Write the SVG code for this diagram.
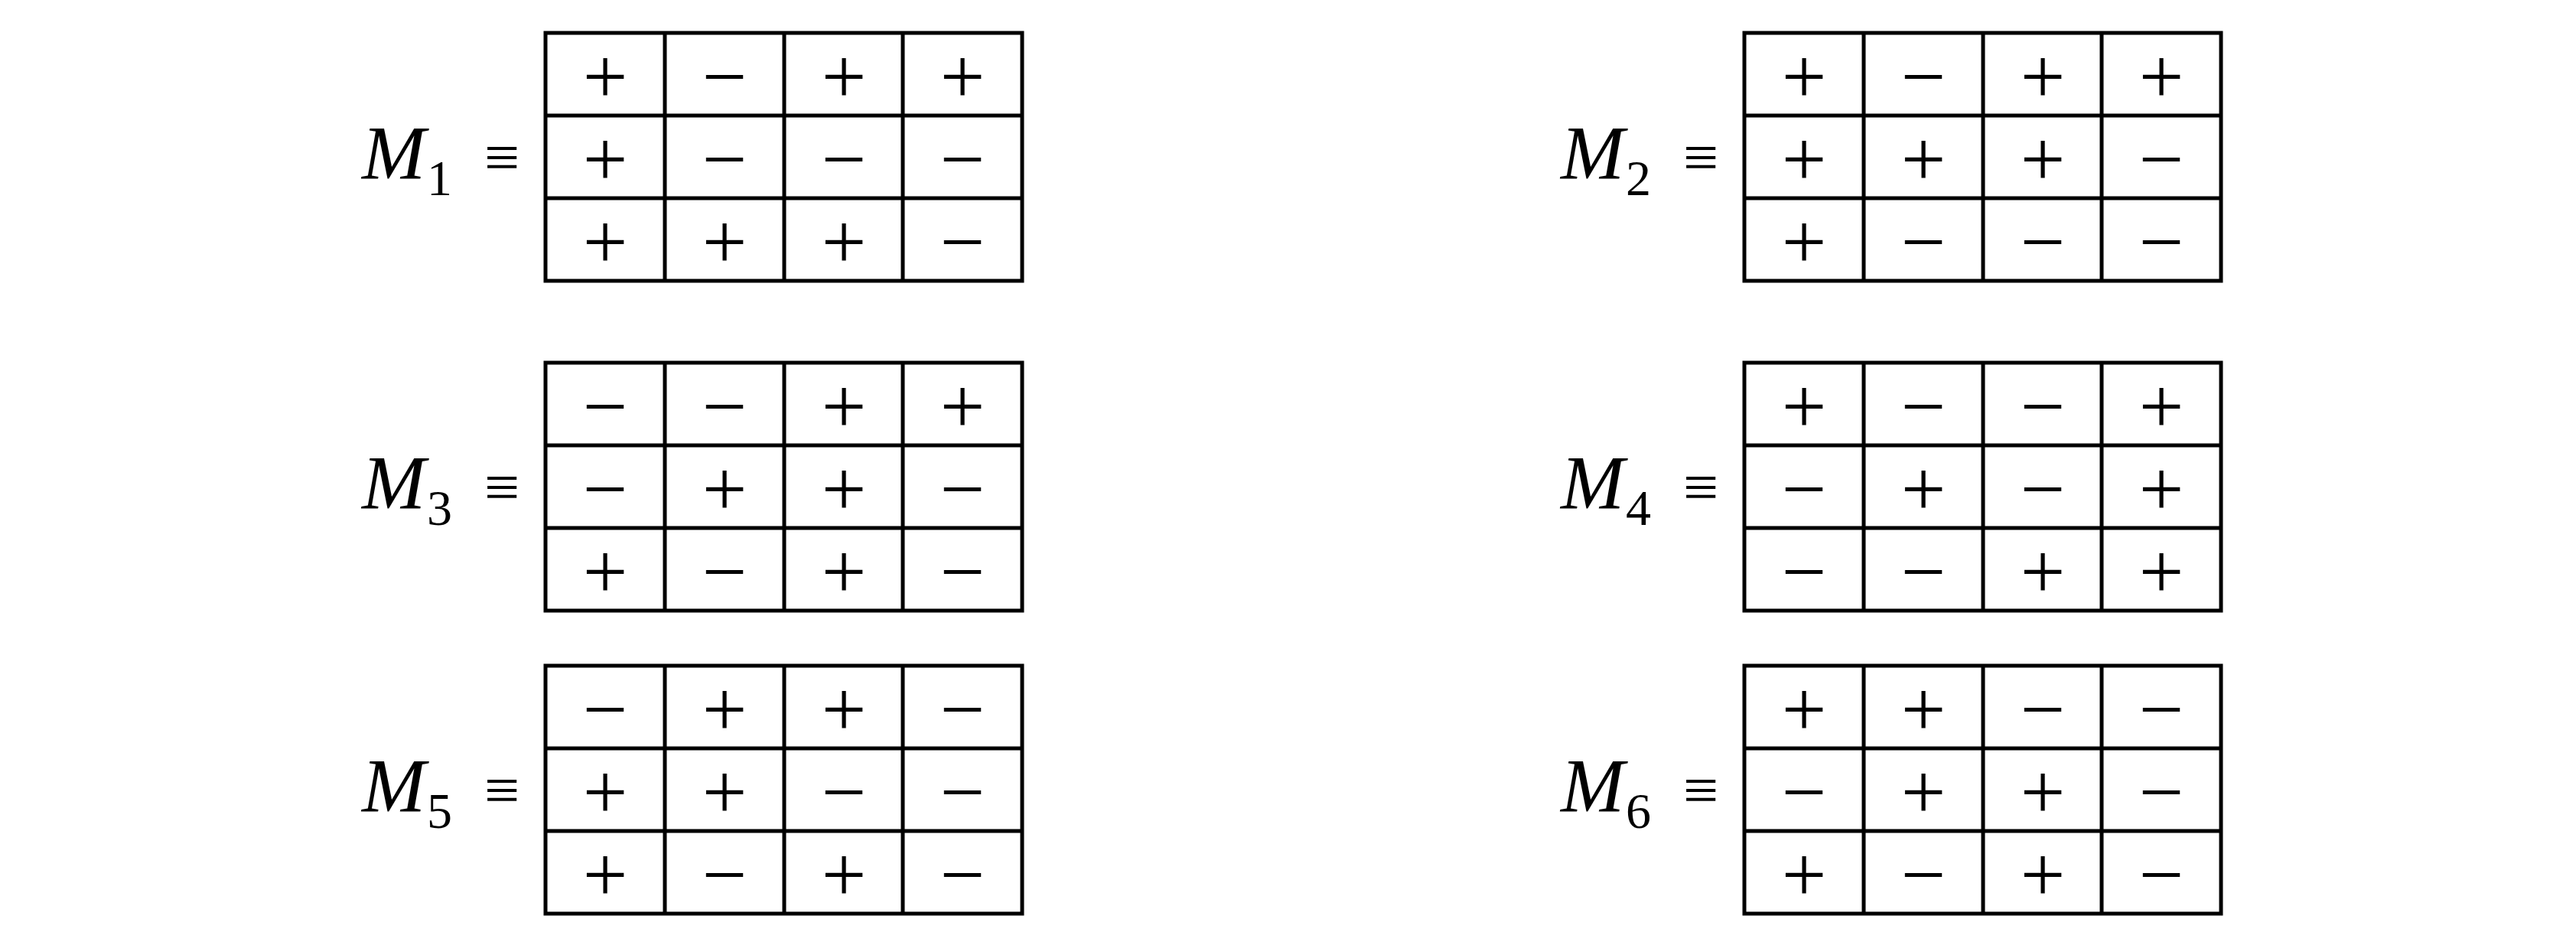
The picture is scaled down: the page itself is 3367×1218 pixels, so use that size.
<svg xmlns="http://www.w3.org/2000/svg" width="3367" height="1218" viewBox="0 0 3367 1218">
<style>
.g{fill:none;stroke:#000;stroke-width:5}
.s{font-family:"Liberation Serif","DejaVu Serif",serif;font-size:104px;text-anchor:middle}
.m{font-family:"Liberation Serif",serif;font-style:italic;font-size:100px}
.sub{font-family:"Liberation Serif",serif;font-size:66px}
.eq{font-family:"DejaVu Sans","Liberation Serif",serif;font-size:82px;font-weight:300;text-anchor:middle}
</style>
<defs>
<g id="grid">
<rect class="g" x="0" y="0" width="623" height="324"/>
<path class="g" d="M156 0V324M312 0V324M467 0V324M0 108H623M0 216H623"/>
</g>
</defs>
<g id="M1" transform="translate(713,43)">
<use href="#grid"/>
<text class="m" x="-240" y="190">M</text><text class="sub" x="-155" y="212">1</text><text class="eq" x="-57" y="190">≡</text>
<g class="s"><text x="78" y="92">+</text><text x="234" y="92">−</text><text x="390" y="92">+</text><text x="545" y="92">+</text>
<text x="78" y="200">+</text><text x="234" y="200">−</text><text x="390" y="200">−</text><text x="545" y="200">−</text>
<text x="78" y="308">+</text><text x="234" y="308">+</text><text x="390" y="308">+</text><text x="545" y="308">−</text></g>
</g>
<g id="M2" transform="translate(2280,43)">
<use href="#grid"/>
<text class="m" x="-240" y="190">M</text><text class="sub" x="-155" y="212">2</text><text class="eq" x="-57" y="190">≡</text>
<g class="s"><text x="78" y="92">+</text><text x="234" y="92">−</text><text x="390" y="92">+</text><text x="545" y="92">+</text>
<text x="78" y="200">+</text><text x="234" y="200">+</text><text x="390" y="200">+</text><text x="545" y="200">−</text>
<text x="78" y="308">+</text><text x="234" y="308">−</text><text x="390" y="308">−</text><text x="545" y="308">−</text></g>
</g>
<g id="M3" transform="translate(713,474)">
<use href="#grid"/>
<text class="m" x="-240" y="190">M</text><text class="sub" x="-155" y="212">3</text><text class="eq" x="-57" y="190">≡</text>
<g class="s"><text x="78" y="92">−</text><text x="234" y="92">−</text><text x="390" y="92">+</text><text x="545" y="92">+</text>
<text x="78" y="200">−</text><text x="234" y="200">+</text><text x="390" y="200">+</text><text x="545" y="200">−</text>
<text x="78" y="308">+</text><text x="234" y="308">−</text><text x="390" y="308">+</text><text x="545" y="308">−</text></g>
</g>
<g id="M4" transform="translate(2280,474)">
<use href="#grid"/>
<text class="m" x="-240" y="190">M</text><text class="sub" x="-155" y="212">4</text><text class="eq" x="-57" y="190">≡</text>
<g class="s"><text x="78" y="92">+</text><text x="234" y="92">−</text><text x="390" y="92">−</text><text x="545" y="92">+</text>
<text x="78" y="200">−</text><text x="234" y="200">+</text><text x="390" y="200">−</text><text x="545" y="200">+</text>
<text x="78" y="308">−</text><text x="234" y="308">−</text><text x="390" y="308">+</text><text x="545" y="308">+</text></g>
</g>
<g id="M5" transform="translate(713,870)">
<use href="#grid"/>
<text class="m" x="-240" y="190">M</text><text class="sub" x="-155" y="212">5</text><text class="eq" x="-57" y="190">≡</text>
<g class="s"><text x="78" y="92">−</text><text x="234" y="92">+</text><text x="390" y="92">+</text><text x="545" y="92">−</text>
<text x="78" y="200">+</text><text x="234" y="200">+</text><text x="390" y="200">−</text><text x="545" y="200">−</text>
<text x="78" y="308">+</text><text x="234" y="308">−</text><text x="390" y="308">+</text><text x="545" y="308">−</text></g>
</g>
<g id="M6" transform="translate(2280,870)">
<use href="#grid"/>
<text class="m" x="-240" y="190">M</text><text class="sub" x="-155" y="212">6</text><text class="eq" x="-57" y="190">≡</text>
<g class="s"><text x="78" y="92">+</text><text x="234" y="92">+</text><text x="390" y="92">−</text><text x="545" y="92">−</text>
<text x="78" y="200">−</text><text x="234" y="200">+</text><text x="390" y="200">+</text><text x="545" y="200">−</text>
<text x="78" y="308">+</text><text x="234" y="308">−</text><text x="390" y="308">+</text><text x="545" y="308">−</text></g>
</g>
</svg>
